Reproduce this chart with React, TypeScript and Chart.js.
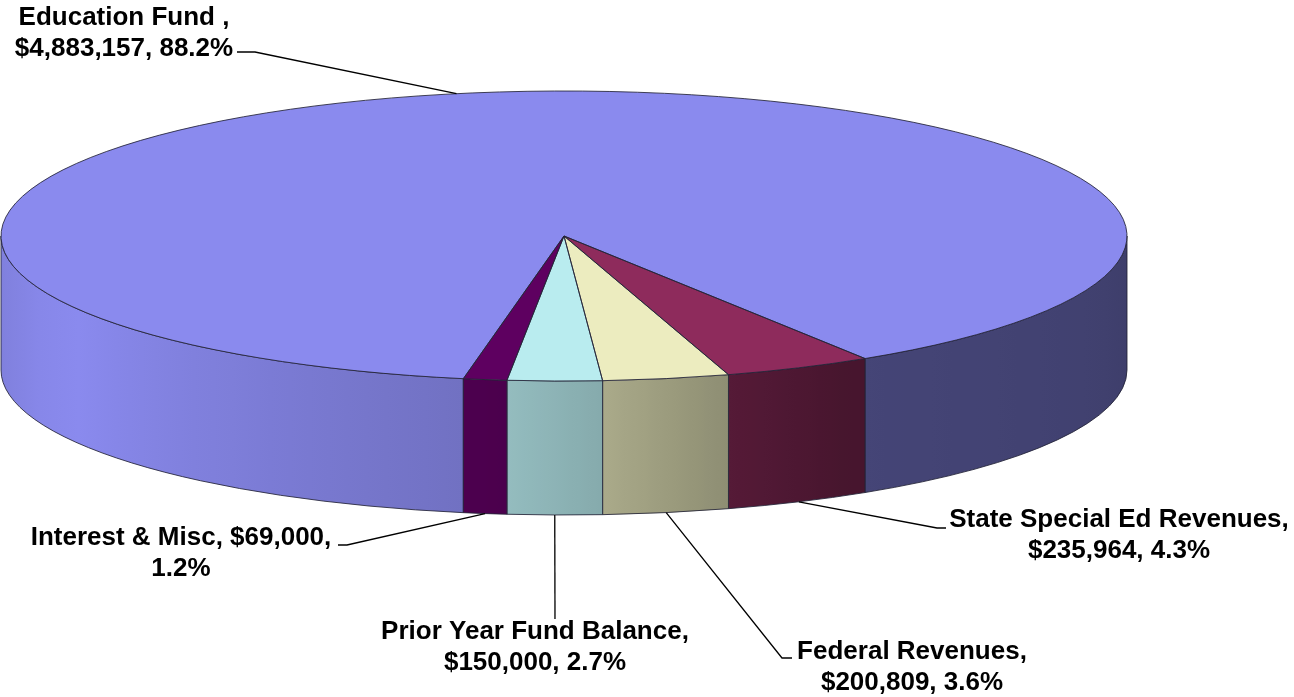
import { useEffect, useRef } from 'react';
import { Chart, registerables } from 'chart.js';

Chart.register(...registerables);

// ---- data ----
const categories = ['Education Fund ', 'State Special Ed Revenues', 'Federal Revenues', 'Prior Year Fund Balance', 'Interest & Misc'];
const amounts = [4883157, 235964, 200809, 150000, 69000];
const percentLabels = ['88.2%', '4.3%', '3.6%', '2.7%', '1.2%'];
const topColors = ['#8a8aee', '#8e2b5c', '#ececbf', '#b9ecef', '#5e0060'];

// how each label's text is broken into lines
const labelLines = [
  (n: string, a: string, p: string) => [`${n},`, `${a}, ${p}`],
  (n: string, a: string, p: string) => [`${n},`, `${a}, ${p}`],
  (n: string, a: string, p: string) => [`${n},`, `${a}, ${p}`],
  (n: string, a: string, p: string) => [`${n},`, `${a}, ${p}`],
  (n: string, a: string, p: string) => [`${n}, ${a},`, `${p}`],
];

// ---- layout / style ----
const LABEL_CENTERS = [[124, 18], [1119, 520], [912, 652], [535, 632], [181, 538]];
const LEADER_POINTS = [
  [[255, 52], [237, 52]],
  [[937, 528], [946, 528]],
  [[782, 658], [792, 658]],
  [[555, 619]],
  [[347, 545], [338, 545]],
];
const LINE_H = 31;
const FONT = 'bold 26px "Liberation Sans", Arial, sans-serif';
const VIEW = { stretchX: 563 / 236, squashY: 145 / 236, depth: 134 };
const SHADE = [[0, 0.45], [60, 0.5], [73, 0.6], [86, 0.72], [96, 0.8], [150, 1.0], [180, 0.93]];
const EDGE = 'rgba(35,35,55,0.85)';

function hexRgb(h: string) {
  const v = parseInt(h.slice(1), 16);
  return [(v >> 16) & 255, (v >> 8) & 255, v & 255];
}
function shadeAt(deg: number) {
  for (let i = 1; i < SHADE.length; i++) {
    if (deg <= SHADE[i][0]) {
      const [d0, s0] = SHADE[i - 1];
      const [d1, s1] = SHADE[i];
      return s0 + ((deg - d0) / (d1 - d0)) * (s1 - s0);
    }
  }
  return SHADE[SHADE.length - 1][1];
}

const pie3d = {
  id: 'pie3d',
  beforeDatasetsDraw(chart: any) {
    const meta = chart.getDatasetMeta(0);
    const arcs = meta.data as any[];
    if (!arcs.length) return;
    const ctx: CanvasRenderingContext2D = chart.ctx;
    const cx = arcs[0].x, cy = arcs[0].y, r = arcs[0].outerRadius;
    const RX = r * VIEW.stretchX, RY = r * VIEW.squashY, D = VIEW.depth;
    // side walls
    arcs.forEach((arc, i) => {
      const s = arc.startAngle, e = arc.endAngle;
      const rgb = hexRgb(topColors[i]);
      const TWO = Math.PI * 2;
      for (let k = Math.floor(s / TWO) - 1; k <= Math.ceil(e / TWO); k++) {
        const lo = Math.max(s, TWO * k), hi = Math.min(e, TWO * k + Math.PI);
        if (hi <= lo) continue;
        const xlo = cx + RX * Math.cos(lo), xhi = cx + RX * Math.cos(hi);
        ctx.beginPath();
        ctx.ellipse(cx, cy, RX, RY, 0, lo, hi, false);
        ctx.ellipse(cx, cy + D, RX, RY, 0, hi, lo, true);
        ctx.closePath();
        let fill: any = `rgb(${rgb.map((c) => Math.round(c * shadeAt(((lo + hi) / 2 - TWO * k) * 180 / Math.PI))).join(',')})`;
        if (Math.abs(xhi - xlo) > 1) {
          const g = ctx.createLinearGradient(xlo, 0, xhi, 0);
          const N = 12;
          for (let j = 0; j <= N; j++) {
            const f = j / N;
            const x = xlo + f * (xhi - xlo);
            const c = Math.max(-1, Math.min(1, (x - cx) / RX));
            const deg = Math.acos(c) * 180 / Math.PI;
            const sh = shadeAt(deg);
            g.addColorStop(f, `rgb(${rgb.map((v) => Math.round(v * sh)).join(',')})`);
          }
          fill = g;
        }
        ctx.fillStyle = fill;
        ctx.fill();
        ctx.strokeStyle = EDGE;
        ctx.lineWidth = 1;
        ctx.stroke();
      }
    });
    // squash the canvas so the library's arcs become the tilted top face
    ctx.save();
    ctx.translate(cx, cy);
    ctx.scale(VIEW.stretchX, VIEW.squashY);
    ctx.translate(-cx, -cy);
  },
  afterDatasetsDraw(chart: any) {
    const ctx: CanvasRenderingContext2D = chart.ctx;
    const meta = chart.getDatasetMeta(0);
    const arcs = meta.data as any[];
    if (!arcs.length) return;
    // outline top faces (path built in squashed space, stroked in device space)
    arcs.forEach((arc) => {
      ctx.beginPath();
      ctx.moveTo(arc.x, arc.y);
      ctx.arc(arc.x, arc.y, arc.outerRadius, arc.startAngle, arc.endAngle);
      ctx.closePath();
      ctx.save();
      ctx.setTransform(1, 0, 0, 1, 0, 0);
      ctx.strokeStyle = EDGE;
      ctx.lineWidth = 1;
      ctx.stroke();
      ctx.restore();
    });
    ctx.restore();

    const cx = arcs[0].x, cy = arcs[0].y, r = arcs[0].outerRadius;
    const RX = r * VIEW.stretchX, RY = r * VIEW.squashY, D = VIEW.depth;
    // labels and leader lines
    ctx.save();
    ctx.font = FONT;
    ctx.fillStyle = '#000';
    ctx.textAlign = 'center';
    ctx.textBaseline = 'middle';
    arcs.forEach((arc, i) => {
      const mid = (arc.startAngle + arc.endAngle) / 2;
      const sn = Math.sin(mid);
      const ax = cx + RX * Math.cos(mid);
      const ay = cy + RY * sn + (sn > 0 ? D : 0);
      ctx.beginPath();
      ctx.moveTo(ax, ay);
      LEADER_POINTS[i].forEach(([x, y]) => ctx.lineTo(x, y));
      ctx.strokeStyle = '#000';
      ctx.lineWidth = 1.3;
      ctx.stroke();
      const lines = labelLines[i](categories[i], '$' + amounts[i].toLocaleString('en-US'), percentLabels[i]);
      const [lx, ly] = LABEL_CENTERS[i];
      lines.forEach((t, j) => ctx.fillText(t, lx, ly + j * LINE_H));
    });
    ctx.restore();
  },
};

export default function App() {
  const ref = useRef<HTMLCanvasElement | null>(null);
  useEffect(() => {
    if (!ref.current) return;
    const chart = new Chart(ref.current, {
      type: 'pie',
      data: {
        labels: categories,
        datasets: [
          {
            data: amounts,
            backgroundColor: topColors,
            borderWidth: 0,
            clip: false as any,
          },
        ],
      },
      options: {
        responsive: false,
        animation: false,
        rotation: 190.3,
        layout: { padding: { left: 0, top: 0, right: 166, bottom: 225 } },
        plugins: { legend: { display: false }, tooltip: { enabled: false } },
        events: [],
      },
      plugins: [pie3d as any],
    });
    return () => chart.destroy();
  }, []);
  return (
    <div style={{ position: 'absolute', left: 0, top: 0, width: 1294, height: 697, background: '#fff' }}>
      <canvas ref={ref} width={1294} height={697} style={{ display: 'block' }} />
    </div>
  );
}
